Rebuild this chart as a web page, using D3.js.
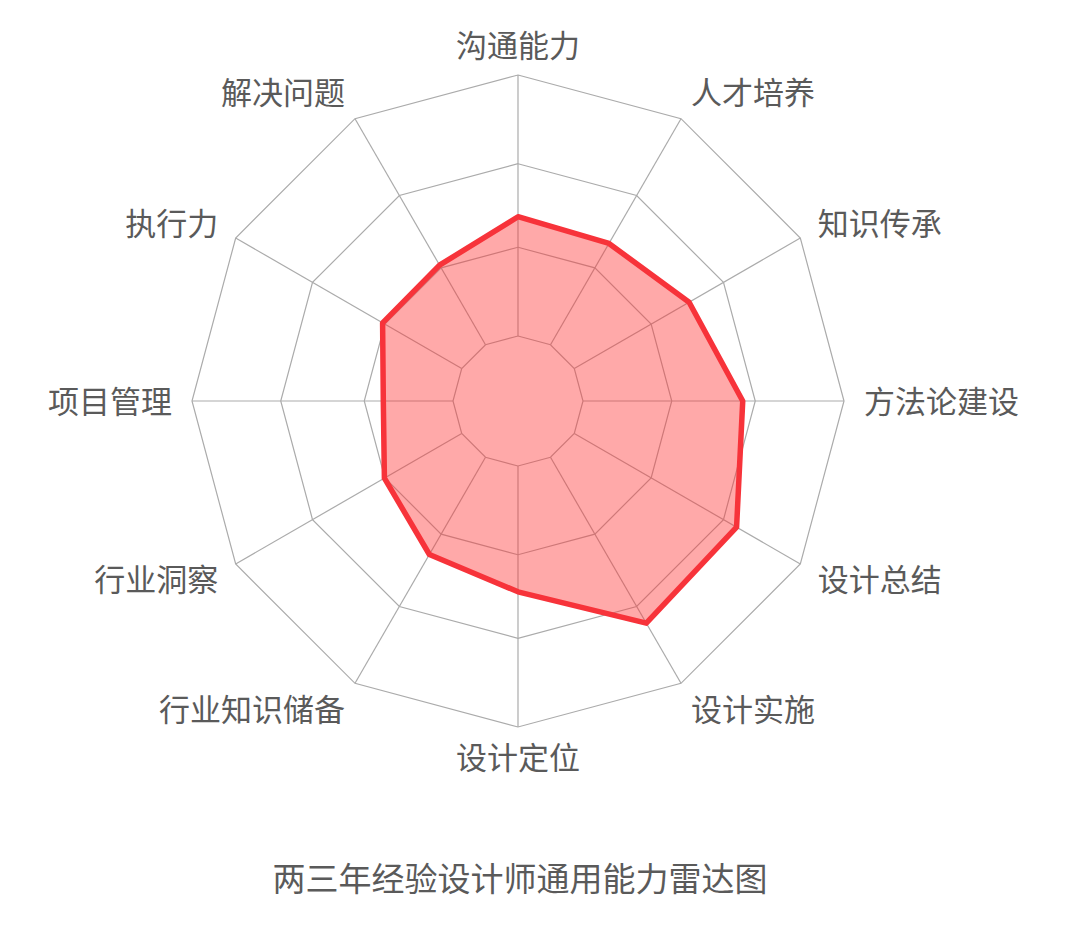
<!DOCTYPE html>
<html>
<head>
<meta charset="utf-8">
<script src="https://cdn.jsdelivr.net/npm/d3@7"></script>
<style>
  html, body { margin: 0; padding: 0; background: #fff; }
  svg text { font-family: 'Noto Sans CJK SC', 'Noto Sans', sans-serif; }
</style>
</head>
<body>
<div class="radar-chart"></div>
<script>
const AXES = ['沟通能力', '人才培养', '知识传承', '方法论建设', '设计总结', '设计实施',
  '设计定位', '行业知识储备', '行业洞察', '项目管理', '执行力', '解决问题']
const VALUES = [45.7, 44.8, 50.8, 61.2, 71.8, 73.4, 48.2, 43, 34.2, 26.7, 35, 35.2]
const LEVELS = [0, 34, 66, 100]
const TITLE = '两三年经验设计师通用能力雷达图'

const GRID_COLOR = '#ababab'
const LINE_COLOR = '#f7333a'
const FILL_COLOR = 'rgba(255, 51, 51, 0.42)'
const TEXT_COLOR = '#5a5a5a'

const width = 1080
const height = 932
const cx = 518
const cy = 401

const svg = d3.select('.radar-chart').append('svg')
  .attr('width', width)
  .attr('height', height)

const r = d3.scaleLinear()
  .domain([0, 100])
  .range([65, 326])

// angle per axis, clockwise from the top
const angle = d3.scaleLinear()
  .domain([0, AXES.length])
  .range([0, 2 * Math.PI])

const point = (i, radius) => [
  cx + radius * Math.sin(angle(i)),
  cy - radius * Math.cos(angle(i))
]

const line = d3.line().curve(d3.curveLinearClosed)

const grid = svg.append('g')

// rings
LEVELS.forEach(level => {
  grid.append('path')
    .attr('d', line(AXES.map((a, i) => point(i, r(level)))))
    .attr('fill', 'none')
    .attr('stroke', GRID_COLOR)
    .attr('stroke-width', 1.2)
})

// spokes from inner ring to outer ring
AXES.forEach((a, i) => {
  const [x1, y1] = point(i, r(LEVELS[0]))
  const [x2, y2] = point(i, r(LEVELS[LEVELS.length - 1]))
  grid.append('line')
    .attr('x1', x1).attr('y1', y1)
    .attr('x2', x2).attr('y2', y2)
    .attr('stroke', GRID_COLOR)
    .attr('stroke-width', 1.2)
})

// data area
svg.append('path')
  .datum(VALUES)
  .attr('d', line(VALUES.map((v, i) => point(i, r(v)))))
  .attr('fill', FILL_COLOR)
  .attr('stroke', LINE_COLOR)
  .attr('stroke-width', 5.5)
  .attr('stroke-linejoin', 'round')

// axis labels
const LABEL_SIZE = 31
const outer = r(LEVELS[LEVELS.length - 1])
AXES.forEach((label, i) => {
  const dx = Math.sin(angle(i))
  const dy = -Math.cos(angle(i))
  const [x, y] = point(i, outer + 20)
  const anchor = Math.abs(dx) < 0.01 ? 'middle' : (dx > 0 ? 'start' : 'end')
  svg.append('text')
    .attr('x', x)
    .attr('y', y + dy * 10 + LABEL_SIZE * 0.38)
    .attr('text-anchor', anchor)
    .attr('font-size', LABEL_SIZE)
    .attr('fill', TEXT_COLOR)
    .text(label)
})

// title
svg.append('text')
  .attr('x', 520)
  .attr('y', 878 + 33 * 0.38)
  .attr('text-anchor', 'middle')
  .attr('font-size', 33)
  .attr('fill', TEXT_COLOR)
  .text(TITLE)
</script>
</body>
</html>
